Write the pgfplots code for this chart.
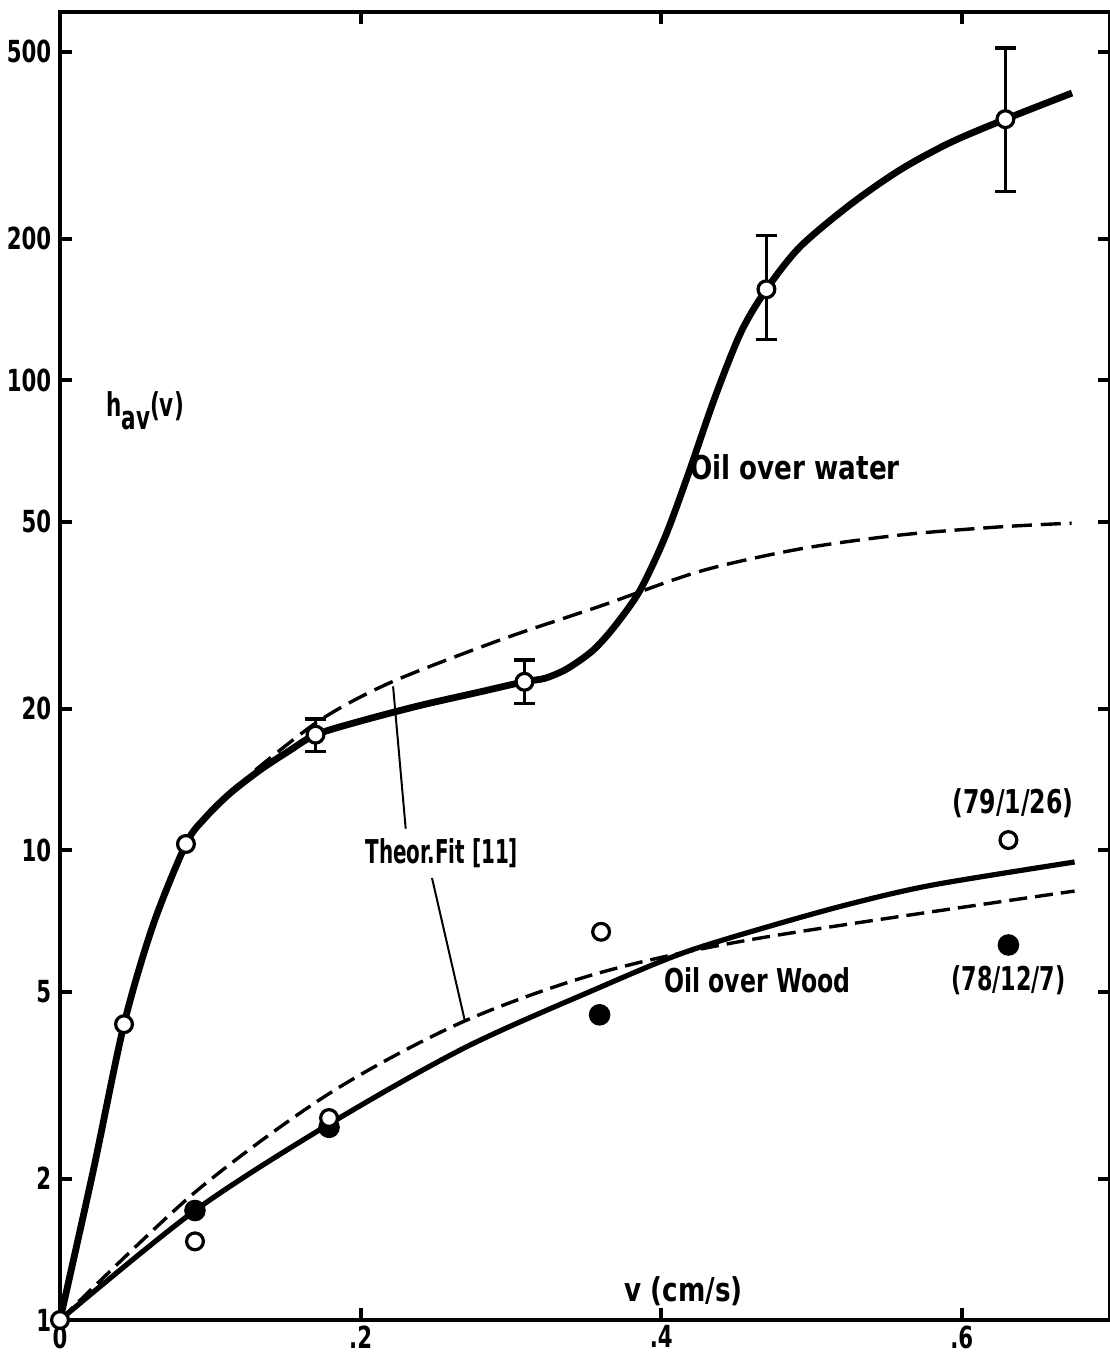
\documentclass[border=0pt]{standalone}
\usepackage{fontspec}
\setmainfont{DejaVu Sans}[FakeStretch=0.8]
\newfontfamily\tickfont{DejaVu Sans}[FakeStretch=0.7]
\usepackage{graphicx}
\usepackage{pgfplots}
\pgfplotsset{compat=1.18}
\usetikzlibrary{calc}

\begin{document}
\begin{tikzpicture}
\begin{axis}[
  scale only axis, width=262.5pt, height=327pt,
  ymode=log, xmin=0, xmax=0.6986, ymin=1, ymax=607,
  axis line style={line width=1.1pt},
  tick align=inside, major tick length=3pt,
  every tick/.style={line width=1pt, black},
  xtick={0,0.2,0.4,0.6}, xticklabels={0,.2,.4,.6},
  ytick={1,2,5,10,20,50,100,200,500}, yticklabels={1,2,5,10,20,50,100,200,500},
  yminorticks=false,
  tick label style={font=\tickfont\bfseries\fontsize{7.6}{8}\selectfont},
  xticklabel style={inner sep=1.2pt},
  yticklabel style={inner sep=2pt},
  clip=false,
]
% oil over water, solid curve
\addplot[line width=1.7pt, smooth, tension=0.5] coordinates {
 (0,1) (0.022,2.07) (0.0426,4.26) (0.0619,6.92) (0.0838,10.3) (0.0965,11.7) (0.1131,13.2)
 (0.1331,14.8) (0.153,16.3) (0.1703,17.6) (0.1996,18.8) (0.2395,20.3) (0.2794,21.7)
 (0.3087,22.8) (0.3227,23.2) (0.3373,24.3) (0.3546,26.6) (0.3693,30.0) (0.3859,35.7)
 (0.4025,46.3) (0.4178,62.8) (0.4358,92.0) (0.4531,126.5) (0.470,156) (0.4923,192)
 (0.5256,236) (0.5589,280) (0.5922,320) (0.629,359) (0.6733,408)};
% oil over water, theoretical fit
\addplot[line width=0.85pt, dash pattern=on 5pt off 2.2pt, smooth] coordinates {
 (0.130,14.8) (0.173,18.9) (0.2196,22.7) (0.293,28.0) (0.359,33.0) (0.426,39.2)
 (0.492,43.7) (0.559,46.8) (0.625,48.7) (0.673,49.6)};
% oil over wood, solid curve
\addplot[line width=1.3pt, smooth] coordinates {
 (0,1) (0.0898,1.71) (0.179,2.61) (0.2695,3.8) (0.359,5.1) (0.4145,6.04)
 (0.4704,6.86) (0.5256,7.68) (0.581,8.43) (0.675,9.43)};
% oil over wood, theoretical fit
\addplot[line width=0.85pt, dash pattern=on 4.5pt off 2pt, smooth] coordinates {
 (0,1) (0.0898,1.87) (0.1796,3.04) (0.268,4.31) (0.359,5.48) (0.466,6.50)
 (0.675,8.18)};
% wood, filled points (78/12/7)
\addplot[only marks, mark=*, mark size=2.5pt, mark options={fill=black}] coordinates {
 (0.0898,1.71) (0.179,2.57) (0.359,4.46) (0.631,6.28)};
% wood, open points (79/1/26)
\addplot[only marks, mark=*, mark size=2.1pt, mark options={fill=white, draw=black, line width=0.8pt}] coordinates {
 (0.0898,1.47) (0.179,2.69) (0.36,6.7) (0.631,10.5)};
% water points with error bars
\addplot[only marks, mark=*, mark size=2.1pt, mark options={fill=white, draw=black, line width=0.8pt},
  error bars/.cd, y dir=both, y explicit,
  error bar style={line width=0.8pt},
  error mark options={rotate=90, mark size=2.6pt, line width=0.9pt}] coordinates {
 (0,1) (0.0426,4.26) (0.0838,10.3)
 (0.170,17.6) += (0,1.4) -= (0,1.4)
 (0.309,22.8) += (0,2.6) -= (0,2.3)
 (0.470,156) += (0,47) -= (0,34)
 (0.629,359) += (0,150) -= (0,107)};
% leader lines
\draw[line width=0.5pt] (axis cs:0.2216,22.3) -- (axis cs:0.230,11.1);
\draw[line width=0.5pt] (axis cs:0.2475,8.72) -- (axis cs:0.2695,4.31);
% labels
\begin{scope}[every node/.style={font=\bfseries\fontsize{8.2}{10}\selectfont}]
\node at (axis cs:0.0566,86) {\scalebox{0.82}[1]{h\raisebox{-0.4em}{av}(v)}};
\node at (axis cs:0.489,65.3) {Oil over water};
\node at (axis cs:0.254,9.85) {\scalebox{0.76}[1]{Theor.Fit [11]}};
\node at (axis cs:0.464,5.29) {\scalebox{0.9}[1]{Oil over Wood}};
\node at (axis cs:0.634,12.6) {\scalebox{0.9}[1]{(79/1/26)}};
\node at (axis cs:0.631,5.29) {\scalebox{0.85}[1]{(78/12/7)}};
\node at (axis cs:0.415,1.15) {v (cm/s)};
\end{scope}
\end{axis}
\pgfresetboundingbox
\path[use as bounding box] ($(current axis.south west)+(-15pt,-9.5pt)$) rectangle ($(current axis.north east)+(-0.25pt,3pt)$);
\end{tikzpicture}
\end{document}
